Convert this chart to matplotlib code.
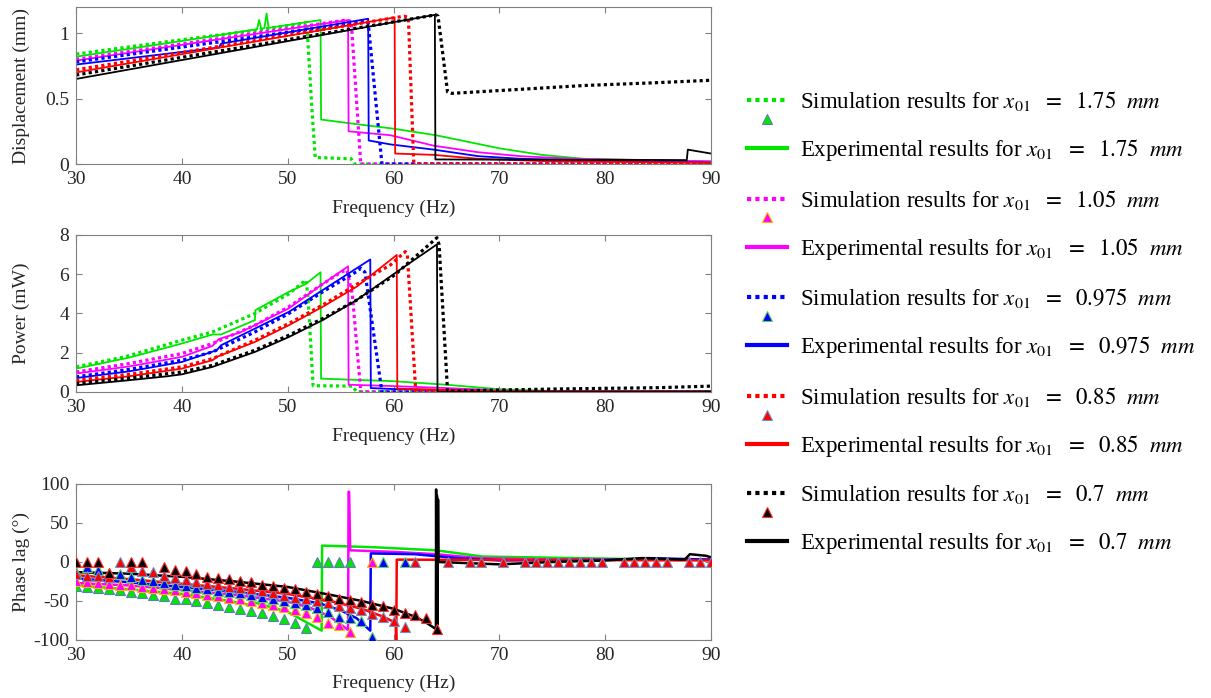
import numpy as np
import matplotlib.pyplot as plt
from matplotlib.lines import Line2D
from matplotlib.legend_handler import HandlerBase

plt.rcParams['font.family'] = ['Liberation Serif', 'DejaVu Serif']
plt.rcParams['mathtext.fontset'] = 'stix'

nan = np.nan

# initial gap x01 for the five cases
CASES = ["1.75", "1.05", "0.975", "0.85", "0.7"]
COLORS = ["#00e600", "#ff00ff", "#0000ff", "#ff0000", "#000000"]
EDGES = ["#5b7fb5", "#ffb300", "#5fcf5f", "#6d8fc4", "#ff2a2a"]

# ---- displacement (mm) ----
DISP_SIM_F = [
    [30, 40, 46.8, 51.8, 52.3, 52.6, 56.0, 56.3, 90],
    [30, 55.5, 56.0, 56.9, 90],
    [30, 57.3, 57.6, 58.9, 90],
    [30, 61.0, 61.4, 61.9, 62.2, 90],
    [30, 64.0, 64.2, 65.1, 65.5, 71.8, 78, 84.4, 90],
]
DISP_SIM_V = [
    [0.84, 0.95, 1.02, 1.08, 0.40, 0.05, 0.04, 0.0, 0.0],
    [0.80, 1.10, 1.09, 0.0, 0.0],
    [0.78, 1.09, 1.08, 0.0, 0.0],
    [0.72, 1.13, 1.12, 0.02, 0.0, 0.0],
    [0.68, 1.14, 1.13, 0.55, 0.54, 0.57, 0.60, 0.62, 0.64],
]
DISP_EXP_F = [
    [30, 40, 47.1, 47.3, 47.5, 47.8, 48.0, 48.2, 53.1, 53.15, 56, 60, 64, 67, 70, 74, 78, 90],
    [30, 55.7, 55.75, 59.7, 63.8, 68, 72, 77, 90],
    [30, 43.5, 43.7, 57.6, 57.65, 59.7, 63.8, 68, 72, 77, 90],
    [30, 60.1, 60.15, 63.8, 68, 75, 90],
    [30, 63.9, 63.95, 87.7, 87.8, 90],
]
DISP_EXP_V = [
    [0.82, 0.94, 1.03, 1.10, 1.03, 1.04, 1.15, 1.04, 1.10, 0.34, 0.31, 0.27, 0.22, 0.17, 0.12, 0.07, 0.04, 0.02],
    [0.79, 1.10, 0.25, 0.22, 0.14, 0.09, 0.06, 0.04, 0.02],
    [0.76, 0.89, 0.92, 1.11, 0.18, 0.15, 0.11, 0.06, 0.04, 0.03, 0.01],
    [0.70, 1.12, 0.08, 0.07, 0.04, 0.02, 0.01],
    [0.65, 1.14, 0.035, 0.03, 0.11, 0.08],
]

# ---- power (mW) ----
POW_SIM_F = [
    [30, 34.6, 40, 42.9, 46.9, 50.1, 51.7, 51.9, 52.4, 56.1, 56.5, 90],
    [30, 35, 40, 42.9, 46.9, 50.1, 53.3, 55.1, 55.6, 56.1, 56.9, 90],
    [30, 35, 40, 42.9, 46.9, 50.1, 53.3, 56.5, 56.9, 57.3, 58.9, 90],
    [30, 35, 40, 42.9, 46.9, 50.1, 53.3, 56.5, 59.7, 61.1, 61.3, 62.1, 90],
    [30, 35, 40, 42.9, 46.9, 50.1, 53.3, 56.5, 60.1, 64.1, 64.3, 65.1, 70, 75, 85, 90],
]
POW_SIM_V = [
    [1.28, 1.79, 2.64, 3.06, 4.0, 5.0, 5.7, 5.0, 0.32, 0.30, 0.02, 0.02],
    [1.02, 1.45, 1.96, 2.47, 3.4, 4.34, 5.5, 6.13, 6.2, 5.0, 0.0, 0.0],
    [0.77, 1.15, 1.62, 2.04, 3.06, 4.0, 5.1, 6.13, 6.3, 6.1, 0.0, 0.0],
    [0.60, 0.90, 1.28, 1.70, 2.64, 3.49, 4.43, 5.48, 6.47, 7.15, 7.0, 0.0, 0.0],
    [0.43, 0.70, 1.02, 1.36, 2.13, 2.89, 3.74, 4.68, 5.96, 7.86, 7.5, 0.05, 0.10, 0.15, 0.22, 0.30],
]
POW_EXP_F = [
    [30, 35, 40, 42.9, 43.7, 46.9, 46.95, 50.1, 51.7, 53.1, 53.15, 60, 65, 70, 75, 90],
    [30, 35, 40, 42.9, 43.5, 45.5, 50.1, 53.3, 55.7, 55.75, 60, 65, 70, 75, 90],
    [30, 35, 40, 43.3, 43.7, 46.9, 50.1, 53.3, 57.8, 57.85, 60, 65, 70, 90],
    [30, 35, 40, 42.9, 43.3, 46.9, 50.1, 53.3, 56.5, 60.3, 60.35, 65, 70, 90],
    [30, 35, 38.6, 40, 42.9, 46.9, 50.1, 53.3, 56.5, 60.1, 64.1, 64.15, 90],
]
POW_EXP_V = [
    [1.19, 1.75, 2.47, 2.93, 2.93, 3.66, 4.17, 5.1, 5.5, 6.1, 0.68, 0.55, 0.37, 0.14, 0.05, 0.02],
    [0.94, 1.30, 1.79, 2.35, 2.70, 3.03, 4.26, 5.5, 6.4, 0.37, 0.30, 0.20, 0.08, 0.03, 0.02],
    [0.71, 1.05, 1.53, 2.13, 2.38, 3.23, 4.08, 5.19, 6.75, 0.20, 0.15, 0.10, 0.05, 0.02],
    [0.51, 0.80, 1.19, 1.62, 1.79, 2.55, 3.40, 4.34, 5.36, 6.98, 0.17, 0.10, 0.05, 0.02],
    [0.34, 0.60, 0.80, 0.90, 1.28, 2.04, 2.80, 3.66, 4.68, 6.04, 7.52, 0.0, 0.02],
]

# ---- phase lag (deg) ----
PH_EXP_F = [
    [30, 35, 40, 44, 46.8, 46.9, 50, 52, 53.2, 53.25, 58, 64, 68.4, 81.4, 90],
    [30, 35, 40, 45, 50, 52, 54, 55.7, 55.75, 55.8, 55.9, 60, 64, 68, 75, 90],
    [30, 35, 40, 45, 50, 53, 55, 56.5, 57.8, 57.85, 62, 66, 70, 82, 84, 90],
    [30, 35, 40, 45, 50, 54, 57, 59, 60.2, 60.25, 60.3, 90],
    [30, 35, 40, 45, 50, 54, 57, 60, 62, 63, 64.0, 64.02, 64.05, 64.1, 64.15, 64.2, 64.25,
     68, 70, 75, 80, 83.5, 87.5, 88, 89.5, 90],
]
PH_EXP_V = [
    [-30, -35, -41, -49, -56, -52, -64, -79, -88, 21, 19, 15, 7, 4, 3],
    [-27, -30, -36, -42, -51, -58, -70, -87, 90, 90, 15, 13, 10, 5, 3, 3],
    [-21, -26, -32, -38, -46, -53, -62, -72, -88, 11, 10, 5, 2, 3, 5, 3],
    [-17, -22, -28, -34, -41, -50, -60, -70, -78, -110, 3, 2],
    [-13, -15, -19, -25, -32, -42, -50, -60, -70, -77, -86, 93, -86, 85, -80, 80, 0,
     -2, -3, 0, 2, 5, 3, 10, 8, 6],
]

# simulated phase, sampled on the sweep grid (59 points, 30-90 Hz)
PH_SIM_F = np.linspace(30, 90, 59)
PH_SIM_V = [
    [-31, -32, -33, -35, -36, -38, -40, -42, -44, -47, -48, -50, -53, -55, -58, -60, -63, -66,
     -69, -73, -78, -85, 0, 0, 0, 0] + [nan] * 33,
    [-25, -26, -27, -28, -29, -30, -32, -33, -35, -36, -38, -40, -42, -44, -46, -48, -50, -52,
     -55, -58, -62, -66, -70, -78, -81, -90, nan, 0] + [nan] * 31,
    [-13, -7, -10, -14, -16, -19, -23, -25, -27, -29, -31, -33, -34, -37, -38, -40, -42, -45,
     -47, -50, -52, -55, -59, -64, -70, -72, -76, -96, 0, nan, 0] + [nan] * 28,
    [-16, -18, -18, -19, 0, -7, -11, -13, -18, -21, -23, -26, -28, -30, -32, -33, -35, -37,
     -40, -43, -46, -48, -50, -52, -57, -59, -62, -67, -70, -76, -83, 0, nan, nan, 0, nan, 0, 0,
     nan, 0, nan, 0, 0, 0, 0, 0, 0, 0, 0, nan, 0, 0, 0, 0, 0, nan, 0, 0, 0],
    [0, 0, 0, -14, nan, 0, 0, nan, -6, -10, -12, -15, -19, -20, -22, -24, -26, -29, -31, -33,
     -35, -38, -41, -44, -47, -49, -51, -55, -57, -61, -65, -68, -72, -86] + [nan] * 25,
]

DOT = (0, (1, 1))
TXT = '#262626'


def style(ax, ylim, yticks, yticklabels, ylabel):
    ax.set_xlim(30, 90)
    ax.set_xticks(range(30, 91, 10))
    ax.set_ylim(*ylim)
    ax.set_yticks(yticks)
    ax.set_yticklabels(yticklabels)
    ax.tick_params(direction='in', top=True, right=True, length=4, width=0.8,
                   color='#808080', labelcolor=TXT, labelsize=14, pad=5)
    for s in ax.spines.values():
        s.set_color('#808080')
        s.set_linewidth(0.8)
    ax.set_xlabel('Frequency (Hz)', fontsize=14, color=TXT)
    ax.xaxis.set_label_coords(0.5, -0.225)
    ax.set_ylabel(ylabel, fontsize=14, color=TXT)
    ax.yaxis.set_label_coords(-0.072, 0.5)


fig = plt.figure(figsize=(12.11, 6.98), dpi=100)
ax1 = fig.add_axes([0.0628, 0.765, 0.5244, 0.225])
ax2 = fig.add_axes([0.0628, 0.4384, 0.5244, 0.225])
ax3 = fig.add_axes([0.0628, 0.0831, 0.5244, 0.2235])

for i in range(5):
    ax1.plot(DISP_EXP_F[i], DISP_EXP_V[i], color=COLORS[i], lw=1.3)
    ax1.plot(DISP_SIM_F[i], DISP_SIM_V[i], color=COLORS[i], lw=2.3, ls=DOT)
    ax2.plot(POW_EXP_F[i], POW_EXP_V[i], color=COLORS[i], lw=1.3)
    ax2.plot(POW_SIM_F[i], POW_SIM_V[i], color=COLORS[i], lw=2.3, ls=DOT)
    ax3.plot(PH_EXP_F[i], PH_EXP_V[i], color=COLORS[i], lw=1.8)
for i in range(5):
    ax3.plot(PH_SIM_F, PH_SIM_V[i], ls='none', marker='^', ms=7.5,
             mfc=COLORS[i], mec=EDGES[i], mew=0.8, zorder=3)

style(ax1, (0, 1.2), [0, 0.5, 1], ['0', '0.5', '1'], 'Displacement (mm)')
style(ax2, (0, 8), [0, 2, 4, 6, 8], ['0', '2', '4', '6', '8'], 'Power (mW)')
style(ax3, (-100, 100), [-100, -50, 0, 50, 100], ['-100', '-50', '0', '50', '100'],
      'Phase lag (°)')


class SimHandler(HandlerBase):
    # dotted line with the triangle marker drawn underneath
    def create_artists(self, legend, orig_handle, xdescent, ydescent, width, height,
                       fontsize, trans):
        ln, mk = orig_handle
        x0 = -xdescent
        yc = -ydescent + height / 2
        a = Line2D([x0, x0 + width], [yc, yc], color=ln.get_color(), lw=3, ls=DOT)
        b = Line2D([x0 + width / 2], [yc - 0.82 * fontsize], ls='none', marker='^', ms=7.5,
                   mfc=mk.get_markerfacecolor(), mec=mk.get_markeredgecolor(), mew=0.8)
        a.set_transform(trans)
        b.set_transform(trans)
        return [a, b]


handles, labels = [], []
for i in range(5):
    sim = (Line2D([], [], color=COLORS[i], lw=3, ls=DOT),
           Line2D([], [], ls='none', marker='^', mfc=COLORS[i], mec=EDGES[i]))
    handles.append(sim)
    labels.append(r'Simulation results for $x_{01}\ \ =\ \ %s\ \ mm$' % CASES[i])
    handles.append(Line2D([], [], color=COLORS[i], lw=3))
    labels.append(r'Experimental results for $x_{01}\ \ =\ \ %s\ \ mm$' % CASES[i])

fig.legend(handles, labels, loc='upper left', bbox_to_anchor=(747 / 1211, 1 - 89 / 698),
           frameon=False, fontsize=16.5, handlelength=1.75, handletextpad=0.55,
           labelspacing=1.06, borderaxespad=0, borderpad=0,
           handler_map={tuple: SimHandler()})

fig.savefig('out.png', dpi=100)
